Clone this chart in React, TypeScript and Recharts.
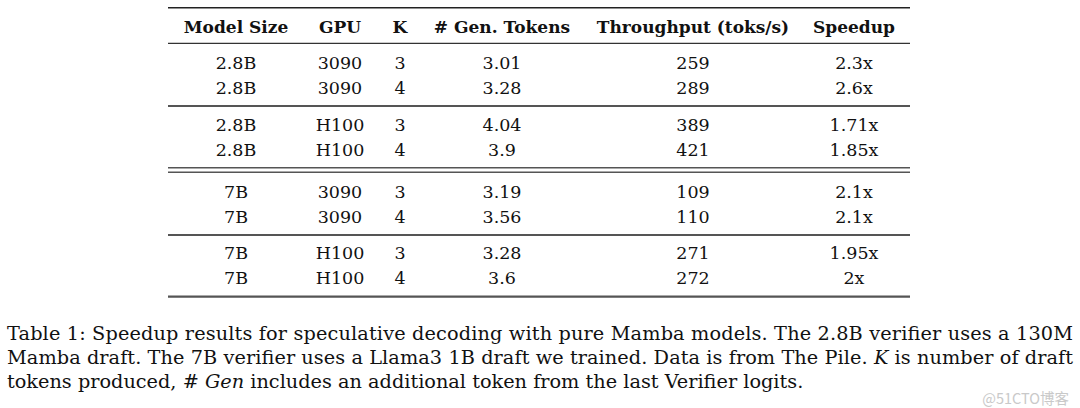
import React, { useEffect } from "react";
import { ScatterChart, Scatter, XAxis, YAxis, ReferenceLine } from "recharts";

// ---- data ----
const headers = ["Model Size", "GPU", "K", "# Gen. Tokens", "Throughput (toks/s)", "Speedup"];
const modelSizes = ["2.8B", "2.8B", "2.8B", "2.8B", "7B", "7B", "7B", "7B"];
const gpus = ["3090", "3090", "H100", "H100", "3090", "3090", "H100", "H100"];
const ks = ["3", "4", "3", "4", "3", "4", "3", "4"];
const genTokens = ["3.01", "3.28", "4.04", "3.9", "3.19", "3.56", "3.28", "3.6"];
const throughput = ["259", "289", "389", "421", "109", "110", "271", "272"];
const speedup = ["2.3x", "2.6x", "1.71x", "1.85x", "2.1x", "2.1x", "1.95x", "2x"];
const captionLines = [
  [{ t: "Table 1: Speedup results for speculative decoding with pure Mamba models. The 2.8B verifier uses a 130M" }],
  [
    { t: "Mamba draft. The 7B verifier uses a Llama3 1B draft we trained. Data is from The Pile. " },
    { t: "K", i: true },
    { t: " is number of draft" },
  ],
  [
    { t: "tokens produced, # " },
    { t: "Gen", i: true },
    { t: " includes an additional token from the last Verifier logits." },
  ],
];
const watermark = "@51CTO博客";

// ---- layout (positions / styles) ----
const W = 1080;
const H = 408;
const COL_X = [236, 340, 400, 502, 693, 854];
const HEADER_Y = 26.5;
const ROW_Y = [62.7, 87.3, 125, 149.3, 191.7, 216.5, 253, 278];
const TABLE_X0 = 168;
const TABLE_X1 = 910;
const RULES = [
  { y: 7.8, w: 1.6, c: "#222" },
  { y: 43.3, w: 1.2, c: "#333" },
  { y: 106, w: 2, c: "#555" },
  { y: 167.7, w: 1.4, c: "#555" },
  { y: 172.3, w: 1.4, c: "#555" },
  { y: 235, w: 2, c: "#555" },
  { y: 296.7, w: 2.2, c: "#555" },
];
const CAPTION_X = 7;
const CAPTION_Y = [340, 364, 388];
const CAPTION_LEN = [1066, 1066, null];
const FONT = "'DejaVu Serif', 'Liberation Serif', serif";
const TABLE_FS = 17.5;
const CAPTION_FS = 19.3;

const columns = [modelSizes, gpus, ks, genTokens, throughput, speedup];

const headerPoints = headers.map((h, c) => ({ x: COL_X[c], y: HEADER_Y, label: h }));
const cellPoints = columns.flatMap((col, c) =>
  col.map((v, r) => ({ x: COL_X[c], y: ROW_Y[r], label: v }))
);
const captionPoints = captionLines.map((parts, i) => ({
  x: CAPTION_X,
  y: CAPTION_Y[i],
  parts,
  len: CAPTION_LEN[i],
}));
const watermarkPoints = [{ x: 1069, y: 399, label: watermark }];

const HeaderText = (p: any) => (
  <text x={p.cx} y={p.cy} dy="0.36em" textAnchor="middle" fontFamily={FONT} fontWeight="bold" fontSize={17} fill="#111">
    {p.payload.label}
  </text>
);
const CellText = (p: any) => (
  <text x={p.cx} y={p.cy} dy="0.36em" textAnchor="middle" fontFamily={FONT} fontSize={TABLE_FS} fill="#111">
    {p.payload.label}
  </text>
);
const CaptionText = (p: any) => (
  <text
    x={p.cx}
    y={p.cy}
    textAnchor="start"
    fontFamily={FONT}
    fontSize={CAPTION_FS}
    fill="#111"
    {...(p.payload.len ? { textLength: p.payload.len, lengthAdjust: "spacing" } : {})}
  >
    {p.payload.parts.map((s: any, k: number) => (
      <tspan key={k} fontStyle={s.i ? "italic" : "normal"}>
        {s.t}
      </tspan>
    ))}
  </text>
);
const WatermarkText = (p: any) => (
  <text x={p.cx} y={p.cy} dy="0.35em" textAnchor="end" fontFamily="'Noto Sans CJK SC', 'Noto Sans', sans-serif" fontSize={14.5} fill="#c9c9c9">
    {p.payload.label}
  </text>
);

export default function App() {
  useEffect(() => {
    document.body.style.margin = "0";
  }, []);
  return (
    <div style={{ position: "absolute", left: 0, top: 0, width: W, height: H, background: "#fff" }}>
      <ScatterChart width={W} height={H} margin={{ top: 0, right: 0, bottom: 0, left: 0 }}>
        <XAxis type="number" dataKey="x" domain={[0, W]} hide />
        <YAxis type="number" dataKey="y" domain={[0, H]} reversed hide />
        {RULES.map((r, i) => (
          <ReferenceLine
            key={i}
            segment={[
              { x: TABLE_X0, y: r.y },
              { x: TABLE_X1, y: r.y },
            ]}
            stroke={r.c}
            strokeWidth={r.w}
          />
        ))}
        <Scatter data={headerPoints} shape={HeaderText} isAnimationActive={false} />
        <Scatter data={cellPoints} shape={CellText} isAnimationActive={false} />
        <Scatter data={captionPoints} shape={CaptionText} isAnimationActive={false} />
        <Scatter data={watermarkPoints} shape={WatermarkText} isAnimationActive={false} />
      </ScatterChart>
    </div>
  );
}
